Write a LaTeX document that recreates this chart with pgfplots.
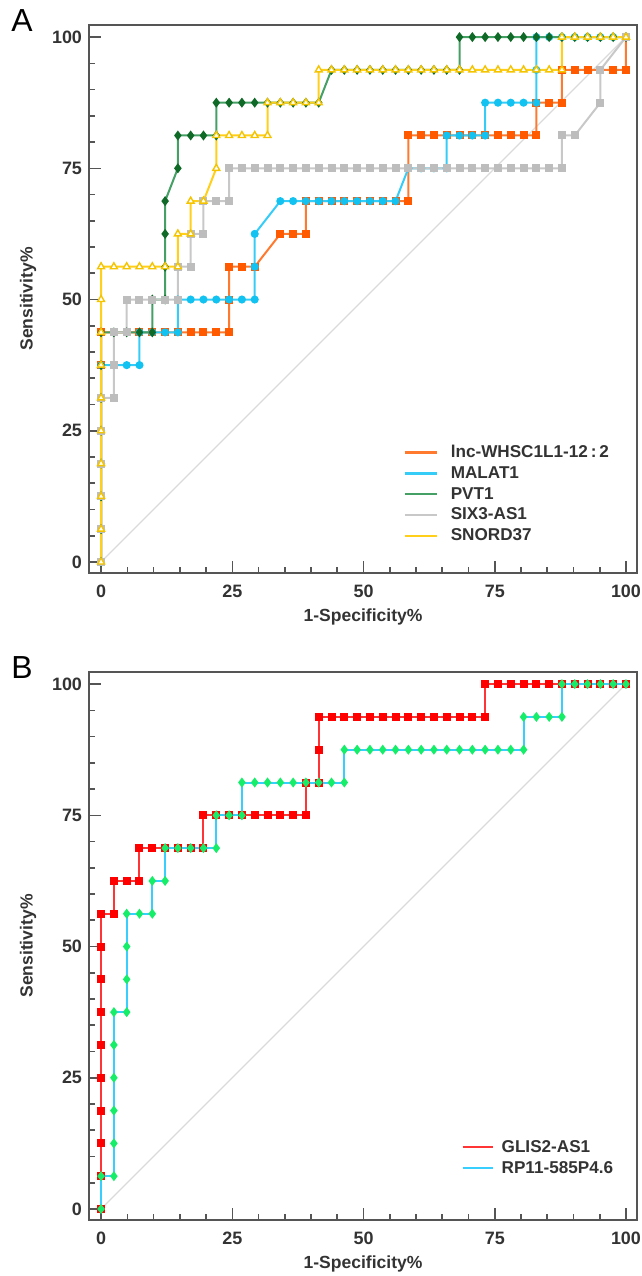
\documentclass[border=0pt]{standalone}
\usepackage{fontspec}
\setmainfont{Liberation Sans}
\usepackage{pgfplots}
\pgfplotsset{compat=1.18}
\definecolor{axgray}{HTML}{555555}
\definecolor{txtgray}{HTML}{333333}
\definecolor{diag}{HTML}{DADADA}
\definecolor{orln}{HTML}{FF7A2E}
\definecolor{ormk}{HTML}{FF5A00}
\definecolor{blln}{HTML}{35CDF8}
\definecolor{blmk}{HTML}{12C2F0}
\definecolor{grln}{HTML}{45A065}
\definecolor{grmk}{HTML}{0E6A26}
\definecolor{gyln}{HTML}{C8C8C8}
\definecolor{gymk}{HTML}{BDBDBD}
\definecolor{yeln}{HTML}{FFCF1A}
\definecolor{yemk}{HTML}{F5C400}
\definecolor{rdln}{HTML}{FF3535}
\definecolor{rdmk}{HTML}{FF0000}
\definecolor{cyln}{HTML}{38CFFF}
\definecolor{cymk}{HTML}{16EE6A}

\pgfplotsset{rocaxis/.style={
  scale only axis, width=274bp, height=274bp,
  xmin=-2.3, xmax=102.1, ymin=-2.1, ymax=102.3,
  xtick={0,25,50,75,100}, ytick={0,25,50,75,100},
  minor tick num=4,
  tick align=inside, tick pos=left,
  major tick length=6bp, minor tick length=3bp,
  axis line style={draw=axgray, line width=0.9bp},
  tick style={draw=axgray, line width=0.8bp},
  tick label style={font=\fontsize{9}{10}\selectfont\bfseries, text=txtgray},
  /pgf/number format/assume math mode=true,
  xticklabel style={yshift=-2.5bp},
  xlabel={1-Specificity\%}, ylabel={Sensitivity\%},
  every axis x label/.style={at={(axis description cs:0.5,-0.0803)}, anchor=center,
    font=\fontsize{8.8}{10}\selectfont\bfseries, text=txtgray},
  every axis y label/.style={at={(axis description cs:-0.1113,0.5)}, rotate=90, anchor=center,
    font=\fontsize{8.8}{10}\selectfont\bfseries, text=txtgray},
  legend cell align=left,
  legend style={draw=none, fill=none, inner sep=0pt, row sep=1.4bp,
    font=\fontsize{8.6}{10}\selectfont\bfseries, text=txtgray,
    nodes={inner sep=0pt, text height=7bp, text depth=2bp}},
}}

\begin{document}
\begin{tikzpicture}
\path[use as bounding box] (0,0) rectangle (321bp,-638bp);

\node[font=\fontsize{16}{16}\selectfont] at (11bp,-10.5bp) {A};
\node[font=\fontsize{16}{16}\selectfont] at (11bp,-334bp) {B};

% ---------- panel A ----------
\begin{axis}[rocaxis, at={(44.5bp,-12.5bp)}, anchor=north west,
  legend style={at={(0.573,0.237)}, anchor=north west, column sep=6.5bp},
  legend image code/.code={\draw[#1, line width=1.2bp] (0bp,0bp) -- (16bp,0bp);}]
\addplot[diag, line width=0.6bp, forget plot] coordinates {(0,0) (100,100)};

% lnc-WHSC1L1-12:2
\addplot[orln, line width=1bp, mark=square*, mark size=1.5bp, mark options={fill=ormk, draw=ormk}] coordinates {
(0,0)(0,6.25)(0,12.5)(0,18.75)(0,25)(0,31.25)(0,37.5)(0,43.75)
(2.44,43.75)(4.88,43.75)(7.32,43.75)(9.76,43.75)(12.2,43.75)(14.63,43.75)(17.07,43.75)(19.51,43.75)(21.95,43.75)(24.39,43.75)
(24.39,50)(24.39,56.25)(26.83,56.25)(29.27,56.25)
(34.15,62.5)(36.59,62.5)(39.02,62.5)
(39.02,68.75)(41.46,68.75)(43.9,68.75)(46.34,68.75)(48.78,68.75)(51.22,68.75)(53.66,68.75)(56.1,68.75)(58.54,68.75)
(58.54,75)(58.54,81.25)
(60.98,81.25)(63.41,81.25)(65.85,81.25)(68.29,81.25)(70.73,81.25)(73.17,81.25)(75.61,81.25)(78.05,81.25)(80.49,81.25)(82.93,81.25)
(82.93,87.5)(85.37,87.5)(87.8,87.5)
(87.8,93.75)(90.24,93.75)(92.68,93.75)(95.12,93.75)(97.56,93.75)(100,93.75)
(100,100)};
\addlegendentry{lnc-WHSC1L1-12\,:\,2}

% MALAT1
\addplot[blln, line width=1bp, mark=*, mark size=1.5bp, mark options={fill=blmk, draw=blmk}] coordinates {
(0,0)(0,6.25)(0,12.5)(0,18.75)(0,25)(0,31.25)(0,37.5)
(2.44,37.5)(4.88,37.5)(7.32,37.5)
(7.32,43.75)(9.76,43.75)(12.2,43.75)(14.63,43.75)
(14.63,50)(17.07,50)(19.51,50)(21.95,50)(24.39,50)(26.83,50)(29.27,50)
(29.27,56.25)(29.27,62.5)
(34.15,68.75)(36.59,68.75)(39.02,68.75)(41.46,68.75)(43.9,68.75)(46.34,68.75)(48.78,68.75)(51.22,68.75)(53.66,68.75)(56.1,68.75)
(58.54,75)(60.98,75)(63.41,75)(65.85,75)
(65.85,81.25)(68.29,81.25)(70.73,81.25)(73.17,81.25)
(73.17,87.5)(75.61,87.5)(78.05,87.5)(80.49,87.5)(82.93,87.5)
(82.93,93.75)(82.93,100)
(85.37,100)(87.8,100)(90.24,100)(92.68,100)(95.12,100)(97.56,100)(100,100)};
\addlegendentry{MALAT1}

% PVT1
\addplot[grln, line width=1bp, mark=diamond*, mark size=1.7bp, mark options={fill=grmk, draw=grmk}] coordinates {
(0,0)(0,6.25)(0,12.5)(0,18.75)(0,25)(0,31.25)(0,37.5)(0,43.75)
(2.44,43.75)(4.88,43.75)(7.32,43.75)(9.76,43.75)
(9.76,50)(12.2,50)
(12.2,56.25)(12.2,62.5)(12.2,68.75)
(14.63,75)(14.63,81.25)
(17.07,81.25)(19.51,81.25)(21.95,81.25)
(21.95,87.5)(24.39,87.5)(26.83,87.5)(29.27,87.5)(31.71,87.5)(34.15,87.5)(36.59,87.5)(39.02,87.5)(41.46,87.5)
(43.9,93.75)(46.34,93.75)(48.78,93.75)(51.22,93.75)(53.66,93.75)(56.1,93.75)(58.54,93.75)(60.98,93.75)(63.41,93.75)(65.85,93.75)(68.29,93.75)
(68.29,100)(70.73,100)(73.17,100)(75.61,100)(78.05,100)(80.49,100)(82.93,100)(85.37,100)(87.8,100)(90.24,100)(92.68,100)(95.12,100)(97.56,100)(100,100)};
\addlegendentry{PVT1}

% SIX3-AS1
\addplot[gyln, line width=1bp, mark=square*, mark size=1.5bp, mark options={fill=gymk, draw=gymk}] coordinates {
(0,0)(0,6.25)(0,12.5)(0,18.75)(0,25)(0,31.25)
(2.44,31.25)(2.44,37.5)(2.44,43.75)
(4.88,43.75)(4.88,50)
(7.32,50)(9.76,50)(12.2,50)(14.63,50)
(14.63,56.25)(17.07,56.25)
(17.07,62.5)(19.51,62.5)
(19.51,68.75)(21.95,68.75)(24.39,68.75)
(24.39,75)(26.83,75)(29.27,75)(31.71,75)(34.15,75)(36.59,75)(39.02,75)(41.46,75)(43.9,75)(46.34,75)(48.78,75)(51.22,75)(53.66,75)(56.1,75)(58.54,75)(60.98,75)(63.41,75)(65.85,75)(68.29,75)(70.73,75)(73.17,75)(75.61,75)(78.05,75)(80.49,75)(82.93,75)(85.37,75)(87.8,75)
(87.8,81.25)(90.24,81.25)
(95.12,87.5)(95.12,93.75)
(100,100)};
\addlegendentry{SIX3-AS1}

% SNORD37
\addplot[yeln, line width=1bp, mark=triangle*, mark size=2bp, mark options={fill=white, draw=yemk, line width=0.7bp}] coordinates {
(0,0)(0,6.25)(0,12.5)(0,18.75)(0,25)(0,31.25)(0,37.5)(0,43.75)(0,50)(0,56.25)
(2.44,56.25)(4.88,56.25)(7.32,56.25)(9.76,56.25)(12.2,56.25)(14.63,56.25)
(14.63,62.5)(17.07,62.5)
(17.07,68.75)(19.51,68.75)
(21.95,75)(21.95,81.25)
(24.39,81.25)(26.83,81.25)(29.27,81.25)(31.71,81.25)
(31.71,87.5)(34.15,87.5)(36.59,87.5)(39.02,87.5)(41.46,87.5)
(41.46,93.75)(43.9,93.75)(46.34,93.75)(48.78,93.75)(51.22,93.75)(53.66,93.75)(56.1,93.75)(58.54,93.75)(60.98,93.75)(63.41,93.75)(65.85,93.75)(68.29,93.75)(70.73,93.75)(73.17,93.75)(75.61,93.75)(78.05,93.75)(80.49,93.75)(82.93,93.75)(85.37,93.75)(87.8,93.75)
(87.8,100)(90.24,100)(92.68,100)(95.12,100)(97.56,100)(100,100)};
\addlegendentry{SNORD37}
\end{axis}

% ---------- panel B ----------
\begin{axis}[rocaxis, at={(44.5bp,-336bp)}, anchor=north west,
  legend style={at={(0.679,0.150)}, anchor=north west, column sep=3.9bp},
  legend image code/.code={\draw[#1, line width=1.2bp] (0bp,0bp) -- (15bp,0bp);}]
\addplot[diag, line width=0.6bp, forget plot] coordinates {(0,0) (100,100)};

% GLIS2-AS1
\addplot[rdln, line width=1bp, mark=square*, mark size=1.5bp, mark options={fill=rdmk, draw=rdmk}] coordinates {
(0,0)(0,6.25)(0,12.5)(0,18.75)(0,25)(0,31.25)(0,37.5)(0,43.75)(0,50)(0,56.25)
(2.44,56.25)(2.44,62.5)
(4.88,62.5)(7.32,62.5)(7.32,68.75)
(9.76,68.75)(12.2,68.75)(14.63,68.75)(17.07,68.75)(19.51,68.75)
(19.51,75)(21.95,75)(24.39,75)(26.83,75)(29.27,75)(31.71,75)(34.15,75)(36.59,75)(39.02,75)
(39.02,81.25)(41.46,81.25)
(41.46,87.5)(41.46,93.75)
(43.9,93.75)(46.34,93.75)(48.78,93.75)(51.22,93.75)(53.66,93.75)(56.1,93.75)(58.54,93.75)(60.98,93.75)(63.41,93.75)(65.85,93.75)(68.29,93.75)(70.73,93.75)(73.17,93.75)
(73.17,100)(75.61,100)(78.05,100)(80.49,100)(82.93,100)(85.37,100)(87.8,100)(90.24,100)(92.68,100)(95.12,100)(97.56,100)(100,100)};
\addlegendentry{GLIS2-AS1}

% RP11-585P4.6
\addplot[cyln, line width=1bp, mark=diamond*, mark size=1.7bp, mark options={fill=cymk, draw=cymk}] coordinates {
(0,0)(0,6.25)(2.44,6.25)
(2.44,12.5)(2.44,18.75)(2.44,25)(2.44,31.25)(2.44,37.5)
(4.88,37.5)(4.88,43.75)(4.88,50)(4.88,56.25)
(7.32,56.25)(9.76,56.25)(9.76,62.5)(12.2,62.5)(12.2,68.75)
(14.63,68.75)(17.07,68.75)(19.51,68.75)(21.95,68.75)(21.95,75)
(24.39,75)(26.83,75)(26.83,81.25)
(29.27,81.25)(31.71,81.25)(34.15,81.25)(36.59,81.25)(39.02,81.25)(41.46,81.25)(43.9,81.25)(46.34,81.25)
(46.34,87.5)(48.78,87.5)(51.22,87.5)(53.66,87.5)(56.1,87.5)(58.54,87.5)(60.98,87.5)(63.41,87.5)(65.85,87.5)(68.29,87.5)(70.73,87.5)(73.17,87.5)(75.61,87.5)(78.05,87.5)(80.49,87.5)
(80.49,93.75)(82.93,93.75)(85.37,93.75)(87.8,93.75)
(87.8,100)(90.24,100)(92.68,100)(95.12,100)(97.56,100)(100,100)};
\addlegendentry{RP11-585P4.6}
\end{axis}
\end{tikzpicture}
\end{document}
